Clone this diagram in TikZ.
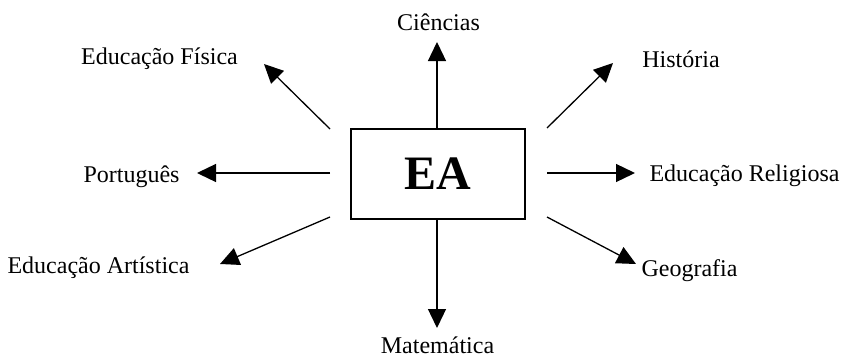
\documentclass[tikz,border=0pt]{standalone}
\usepackage{fontspec}
\setmainfont{Liberation Serif}
\usetikzlibrary{arrows.meta}
\begin{document}
\begin{tikzpicture}[x=1pt,y=-1pt,
  lbl/.style={anchor=base,inner sep=0pt,font=\fontsize{24}{28}\selectfont},
  arr/.style={line width=1.3pt,-{Triangle[length=19pt,width=18pt]}}]
\useasboundingbox (0,0) rectangle (844,359);
\node[draw,line width=1.3pt,minimum width=174pt,minimum height=90pt,inner sep=0pt,
  font=\fontsize{48}{52}\selectfont\bfseries] (ea) at (438,174) {EA};
% labels
\node[lbl] (cie) at (438.5,30) {Ciências};
\node[lbl] (ef) at (159.5,64) {Educação Física};
\node[lbl] (his) at (681,67) {História};
\node[lbl] (por) at (131.5,182) {Português};
\node[lbl] (er) at (744.5,181) {Educação Religiosa};
\node[lbl] (eart) at (98.5,273) {Educação Artística};
\node[lbl] (geo) at (689.5,276) {Geografia};
\node[lbl,text depth=0pt] (mat) at (437.5,353.5) {Matemática};
% arrow ends
\coordinate (s1) at (437,129); \coordinate (t1) at (437,42);
\coordinate (s2) at (330,129); \coordinate (t2) at (264,64);
\coordinate (s3) at (547,128); \coordinate (t3) at (613,63);
\coordinate (s4) at (330,173); \coordinate (t4) at (197,173);
\coordinate (s5) at (547,173); \coordinate (t5) at (635,173);
\coordinate (s6) at (437,219); \coordinate (t6) at (437,328);
\coordinate (s7) at (330,217); \coordinate (t7) at (220,264);
\coordinate (s8) at (547,217); \coordinate (t8) at (636,264);
\foreach \i in {1,...,8} {\draw[arr] (s\i) -- (t\i);}
\end{tikzpicture}
\end{document}
